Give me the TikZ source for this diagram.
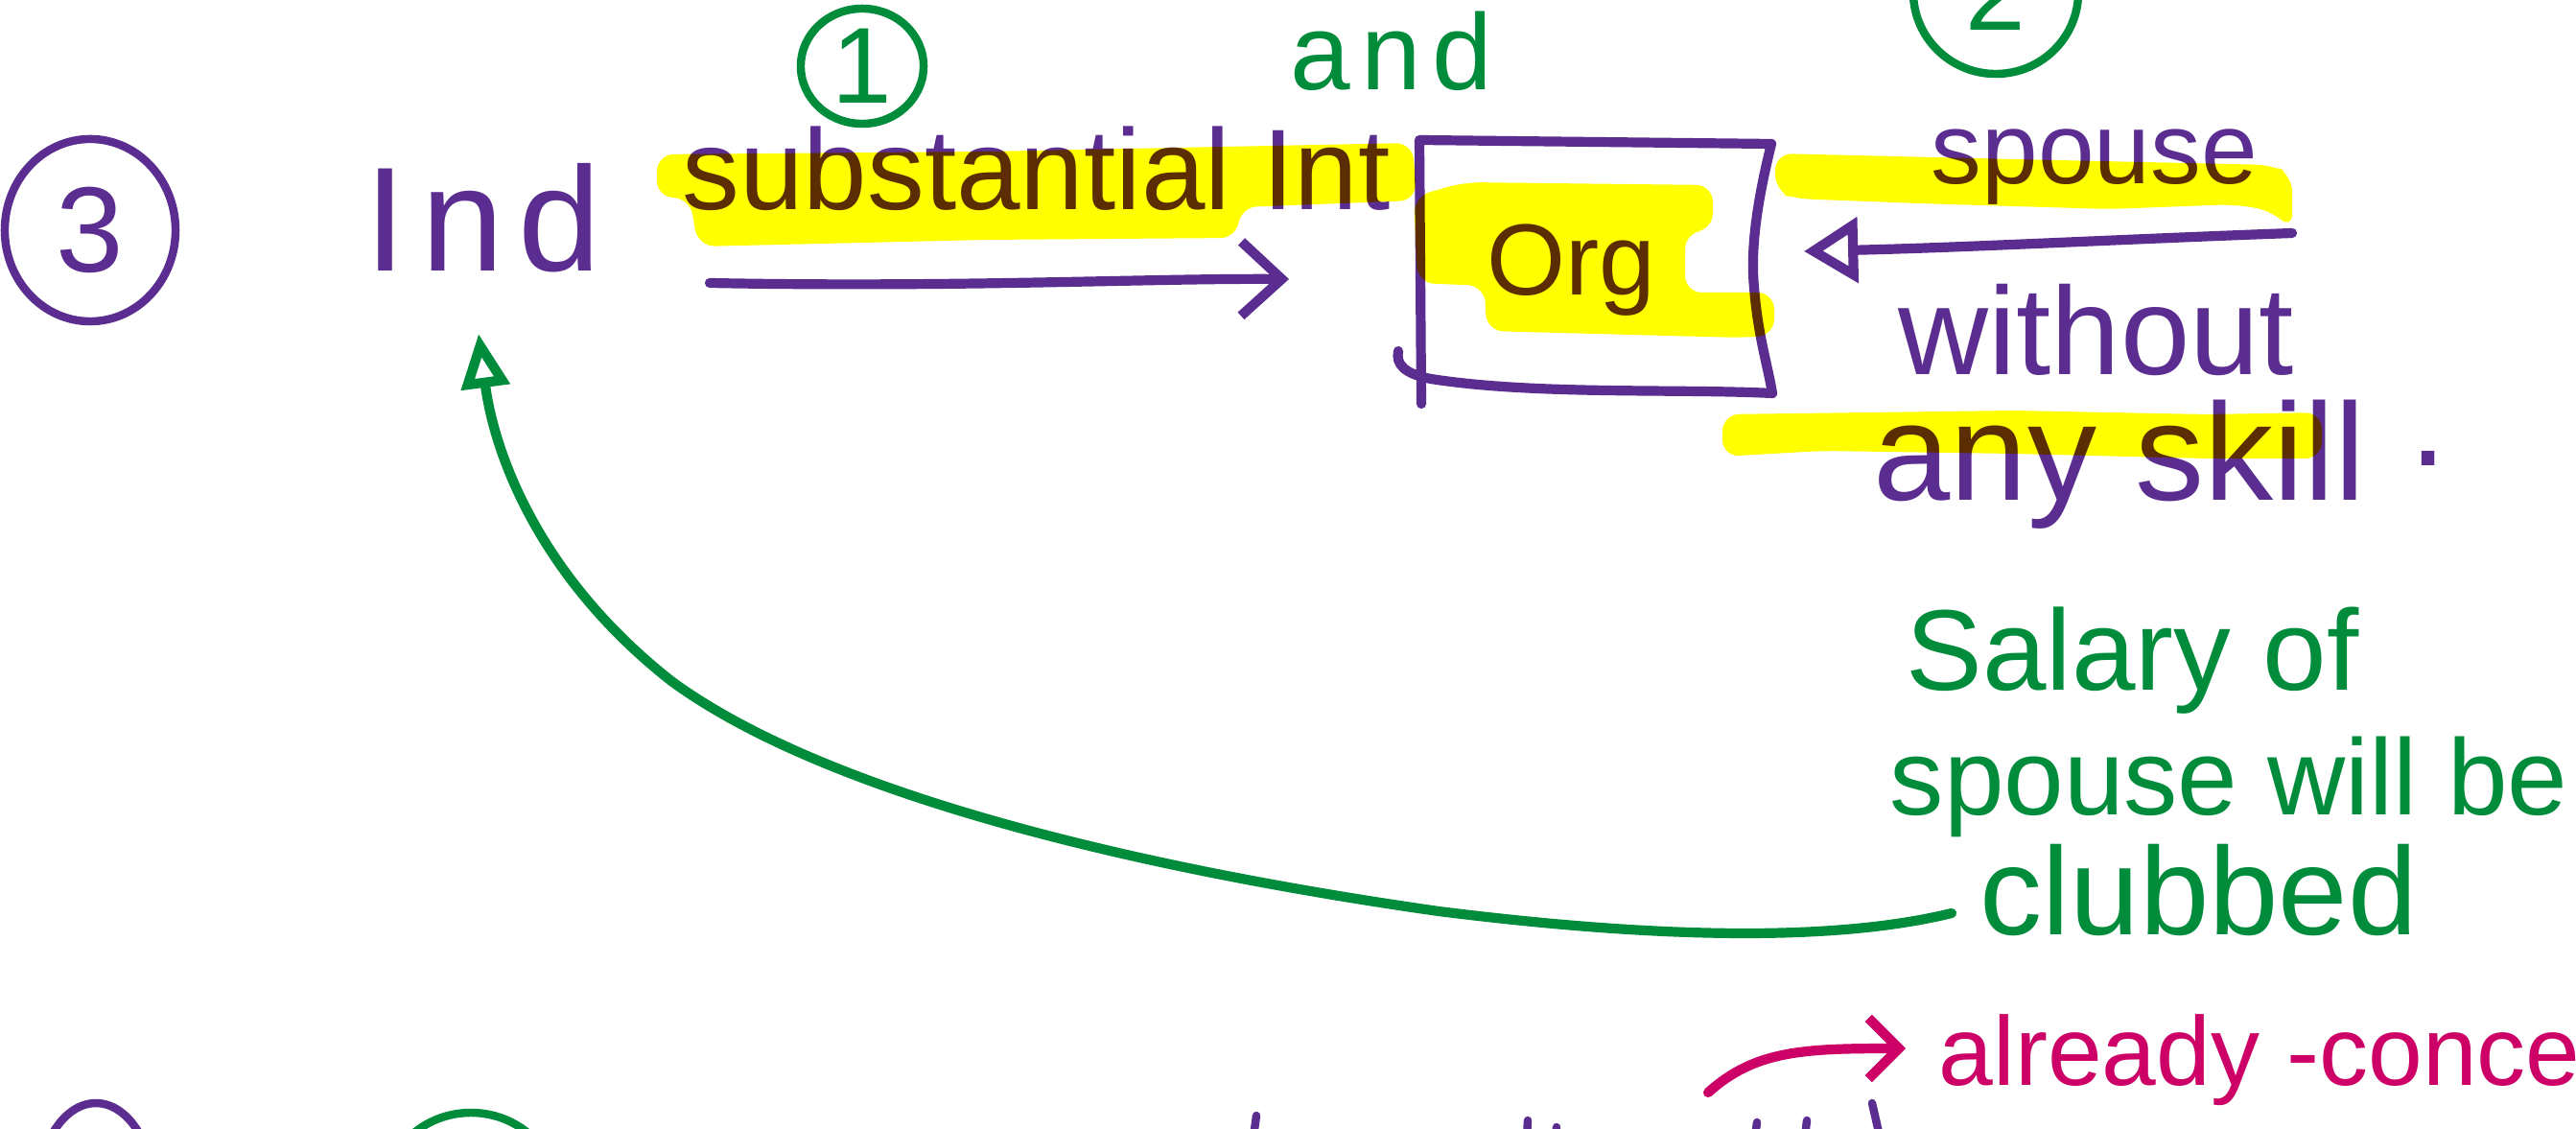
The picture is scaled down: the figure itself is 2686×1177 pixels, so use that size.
\documentclass[tikz,border=0pt]{standalone}
\usepackage{fontspec}
\setmainfont{Liberation Sans}
\usetikzlibrary{arrows.meta,shapes.geometric}
\definecolor{ink}{RGB}{91,45,144}
\definecolor{gink}{RGB}{0,140,58}
\definecolor{mink}{RGB}{204,0,102}
\definecolor{hl}{RGB}{255,255,0}
\newcommand{\fsz}[1]{\fontsize{#1pt}{#1pt}\selectfont}
\newfontfamily\spaced[LetterSpace=10]{Liberation Sans}
\begin{document}
\begin{tikzpicture}[x=0.01cm,y=-0.01cm,
  pen/.style={line width=2.4pt, line cap=round, line join=round},
  thick pen/.style={line width=2.9pt, line cap=round, line join=round},
  txt/.style={inner sep=0pt, anchor=base west},
  circ/.style={ellipse, pen, inner sep=0pt},
  hlt/.style={fill=hl, rounded corners=5pt}]
\useasboundingbox (0,0) rectangle (2686,1177);
\clip (0,0) rectangle (2686,1177);
\fill[white] (0,0) rectangle (2686,1177);

% circled numbers
\node[circ, draw=ink, text=ink, minimum width=1.78cm, minimum height=1.9cm, font=\fsz{36}] (c3) at (94,240) {3};
\node[circ, draw=gink, text=gink, minimum width=1.28cm, minimum height=1.2cm, font=\fsz{32}] (c1) at (899,69) {1};
\node[circ, draw=gink, text=gink, minimum width=1.72cm, minimum height=1.7cm, font=\fsz{32}] (c2) at (2081,-8) {2};

% texts
\node[txt, text=ink, font=\spaced\fsz{44}] (ind) at (380,283) {Ind};
\node[txt, text=ink, font=\fsz{34}] (subst) at (711,219) {substantial Int};
\node[txt, text=gink, font=\spaced\fsz{32}] (and) at (1345,94) {and};
\node[txt, text=ink, font=\fsz{30}] (orgtxt) at (1550,308) {Org};
\node[txt, text=ink, font=\fsz{30}] (spouse) at (2013,192) {spouse};
\node[txt, text=ink, font=\fsz{37}] (without) at (1979,391) {without};
\node[txt, text=ink, font=\fsz{41}] (anyskill) at (1953,522) {any skill};
\node[inner sep=0pt, text=ink, font=\fsz{40}] (dot) at (2532,478) {.};
\node[txt, text=gink, font=\fsz{34}] (sal1) at (1987,720) {Salary of};
\node[txt, text=gink, font=\fsz{32}] (sal2) at (1970,850) {spouse will be};
\node[txt, text=gink, font=\fsz{37}] (sal3) at (2064,975) {clubbed};
\node[txt, text=mink, font=\fsz{29}] (already) at (2021,1131) {already -conce};

% hand-drawn box around Org
\node[minimum width=3.65cm, minimum height=2.62cm] (org) at (1665,280) {};
\draw[thick pen, draw=ink] (1482,421) -- (1480,146) -- (1847,150)
  .. controls (1832,210) and (1825,260) .. (1829,300)
  .. controls (1833,350) and (1843,380) .. (1848,410)
  .. controls (1750,405) and (1600,412) .. (1492,395)
  .. controls (1465,390) and (1455,380) .. (1458,366);

% connectors
\coordinate (a1s) at (740,295);
\coordinate (a1e) at (1344,291);
\draw[thick pen, draw=ink, -{Straight Barb[length=12pt,width=22pt]}] (a1s) .. controls (1000,300) and (1200,290) .. (a1e);

\coordinate (a2s) at (2390,243);
\coordinate (a2e) at (1881,262);
\draw[thick pen, draw=ink, -{Triangle[open,length=16pt,width=19pt]}] (a2s) .. controls (2200,250) and (2050,258) .. (a2e);

\coordinate (gs) at (2035,952);
\coordinate (gt) at (499,348);
\draw[thick pen, draw=gink, -{Triangle[open,length=16pt,width=14pt]}] (gs)
  .. controls (1900,985) and (1700,975) .. (1500,950)
  .. controls (1150,900) and (850,820) .. (700,710)
  .. controls (560,600) and (515,470) .. (gt);

\coordinate (ms) at (1781,1139);
\coordinate (me) at (1987,1093);
\draw[thick pen, draw=mink, -{Straight Barb[length=9pt,width=18pt]}] (ms) .. controls (1830,1095) and (1880,1093) .. (me);

% fragments at the bottom edge
\draw[pen, draw=ink] (100,1250) ellipse [x radius=62, y radius=100];
\draw[pen, draw=gink] (491,1245) ellipse [x radius=90, y radius=85];
\draw[pen, draw=ink] (1310,1163) -- (1307,1185);
\draw[pen, draw=ink] (1593,1168) -- (1592,1185);
\draw[pen, draw=ink] (1623,1175) -- (1622,1185);
\draw[pen, draw=ink] (1832,1170) -- (1830,1185);
\draw[pen, draw=ink] (1884,1168) -- (1882,1185);
\draw[pen, draw=ink] (1952,1150) -- (1960,1185);

% highlighter
\begin{scope}[blend mode=multiply]
\fill[hlt] (685,161) -- (1028,158) -- (1473,149) -- (1477,209) -- (1293,216) -- (1290,248)
  -- (1028,250) -- (728,257) -- (719,206) -- (685,206) -- cycle;
\fill[hlt] (1474,205) -- (1527,190) -- (1786,193) -- (1786,240) -- (1757,242) -- (1757,305)
  -- (1850,305) -- (1850,350) -- (1815,352) -- (1550,345) -- (1548,298) -- (1478,295) -- cycle;
\fill[hlt] (1851,160) -- (2100,166) -- (2370,172) -- (2390,182) -- (2390,240) -- (2370,220)
  -- (2330,213) -- (2200,218) -- (2000,212) -- (1870,207) -- (1851,200) -- cycle;
\fill[hlt] (1796,432) -- (2100,428) -- (2300,432) -- (2421,430) -- (2421,478) -- (2300,478)
  -- (2100,473) -- (1900,470) -- (1796,476) -- cycle;
\end{scope}
\end{tikzpicture}
\end{document}
